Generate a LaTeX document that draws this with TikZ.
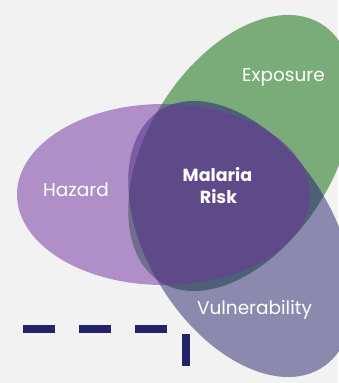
\documentclass[tikz,border=0pt]{standalone}
\usepackage{fontspec}
\setmainfont{Poppins}
\definecolor{bg}{HTML}{F2F2F2}
\definecolor{cH}{HTML}{B08FC9}
\definecolor{cE}{HTML}{79AC78}
\definecolor{cV}{HTML}{8B8AAE}
\definecolor{cHE}{HTML}{736D8D}
\definecolor{cHV}{HTML}{7E5AA9}
\definecolor{cEV}{HTML}{4E5F78}
\definecolor{cHEV}{HTML}{5E4A88}
\definecolor{navy}{HTML}{23236A}
\tikzset{
  rotE/.style={rotate around={58:(241,230)}},
  rotV/.style={rotate around={-58:(241,144)}},
  lbl/.style={text=white, font=\fontsize{18.5}{22}\selectfont, anchor=base, inner sep=0pt},
  blbl/.style={text=white, font=\bfseries\fontsize{17.5}{21}\selectfont, anchor=base, inner sep=0pt},
  bar/.style={navy, line width=8pt}
}
\newcommand\pH{(163.5,188.5) ellipse [x radius=146.5, y radius=90.5]}
\newcommand\pE{(241,230) ellipse [x radius=152, y radius=93]}
\newcommand\pV{(241,144) ellipse [x radius=152, y radius=93]}
\begin{document}
\begin{tikzpicture}[x=1pt,y=1pt]
\fill[bg] (0,0) rectangle (338,383);
\useasboundingbox (0,0) rectangle (338,383);
% single sets
\fill[cH] \pH;
\fill[cE, rotE] \pE;
\fill[cV, rotV] \pV;
% pairwise
\begin{scope}\clip \pH; \fill[cHE, rotE] \pE;\end{scope}
\begin{scope}\clip \pH; \fill[cHV, rotV] \pV;\end{scope}
\begin{scope}\clip[rotE] \pE; \fill[cEV, rotV] \pV;\end{scope}
% triple
\begin{scope}\clip \pH; \clip[rotE] \pE; \fill[cHEV, rotV] \pV;\end{scope}
% labels
\node[lbl] (exp) at (283.5,301) {Exposure};
\node[lbl] (haz) at (76,186) {Hazard};
\node[lbl] (vul) at (254.5,68) {Vulnerability};
\node[blbl] (mal) at (217.5,201) {Malaria};
\node[blbl] (risk) at (218.5,179) {Risk};
% dashed marks
\coordinate (d1) at (23,54);
\coordinate (d2) at (167,54);
\coordinate (v1) at (186,49);
\coordinate (v2) at (186,17);
\draw[bar, dash pattern=on 32pt off 24pt] (d1) -- (d2);
\draw[bar] (v1) -- (v2);
\end{tikzpicture}
\end{document}
